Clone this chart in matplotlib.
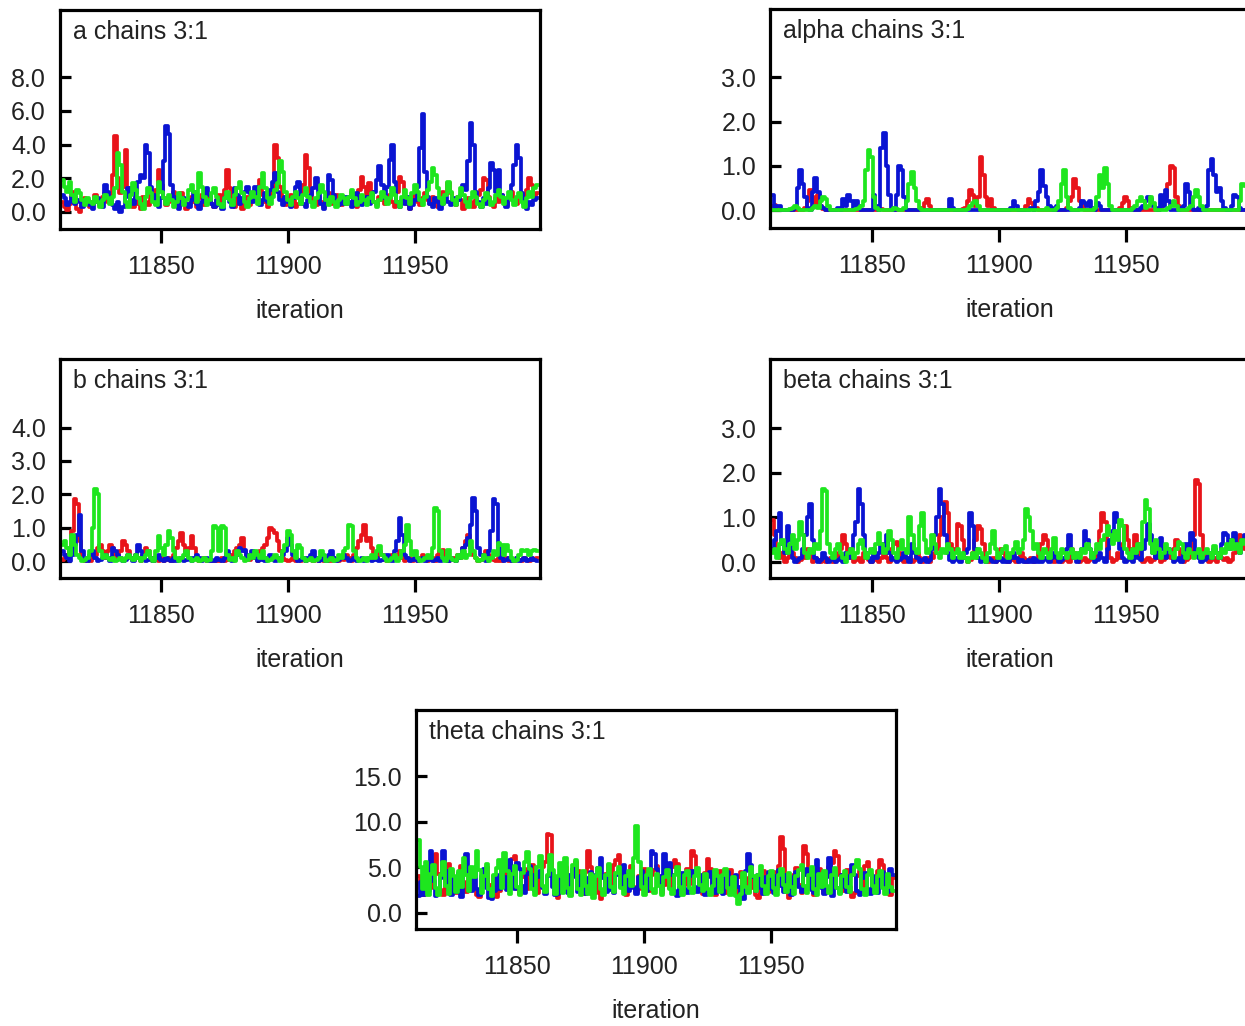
import numpy as np
import matplotlib
matplotlib.use('Agg')
import matplotlib.pyplot as plt

plt.rcParams['font.family'] = ['Liberation Sans', 'DejaVu Sans']

# iterations shown in each trace
iterations = np.arange(11811, 11999)

# ---- a ----
a_red = [0.6, 0.3, 0.1, 0.5, 1.2, 0.9, 0.2, 0.0, 0.4, 0.8, 0.5, 0.3, 0.6, 1.0, 0.7, 0.4, 0.9, 1.1, 0.6, 0.8,
         2.2, 4.5, 2.0, 1.1, 1.5, 3.7, 1.4, 0.6, 0.3, 0.8, 0.5, 0.2, 0.9, 0.6, 0.4, 1.0, 0.7, 1.3, 2.5, 1.6,
         0.8, 0.4, 0.6, 0.9, 1.2, 0.5, 0.3, 1.1, 0.7, 0.2, 0.5, 0.9, 0.6, 0.3, 0.8, 1.0, 0.4, 0.6, 0.9, 0.5,
         0.3, 0.7, 1.0, 0.6, 1.3, 2.5, 1.4, 0.6, 0.3, 0.8, 0.5, 0.2, 0.6, 0.9, 0.4, 0.7, 1.1, 1.4, 1.9, 1.0,
         0.6, 0.3, 0.8, 1.2, 4.0, 3.2, 1.5, 0.9, 0.4, 0.6, 1.0, 0.7, 0.3, 0.5, 1.1, 1.6, 3.4, 2.6, 1.2, 0.7,
         0.4, 0.9, 0.6, 0.3, 0.8, 1.1, 0.5, 0.7, 1.0, 0.6, 0.4, 0.8, 0.5, 0.9, 1.2, 0.6, 0.3, 1.3, 2.1, 1.5,
         1.0, 1.7, 1.2, 0.6, 0.4, 0.9, 0.7, 0.5, 0.8, 1.0, 0.6, 0.3, 1.2, 2.1, 1.8, 0.9, 0.5, 0.2, 0.7, 1.0,
         0.6, 0.4, 0.8, 1.1, 0.7, 0.5, 0.9, 0.6, 0.3, 0.8, 1.2, 1.0, 1.7, 1.1, 0.6, 0.4, 0.9, 0.7, 0.2, 0.5,
         0.8, 0.6, 0.3, 0.7, 1.0, 1.3, 2.0, 1.9, 0.9, 0.5, 0.3, 0.8, 0.6, 1.0, 0.7, 0.4, 0.9, 1.2, 0.8, 0.5,
         0.7, 1.0, 0.6, 1.3, 2.0, 1.6, 0.9, 1.1]
a_blue = [1.0, 0.8, 0.4, 0.6, 0.9, 0.5, 0.7, 0.6, 0.3, 0.5, 0.7, 0.4, 0.2, 0.6, 0.8, 0.5, 0.3, 1.6, 1.2, 0.7,
          0.4, 0.2, 0.6, 0.0, 0.3, 0.9, 1.4, 0.7, 0.5, 1.1, 1.8, 2.2, 2.0, 4.0, 3.5, 1.5, 1.0, 0.5, 0.3, 0.8,
          3.0, 5.1, 4.6, 1.6, 0.9, 0.4, 0.2, 0.6, 0.8, 0.5, 0.3, 0.7, 1.2, 0.5, 0.2, 0.6, 0.9, 1.4, 1.0, 0.5,
          0.3, 0.7, 0.4, 0.2, 0.8, 1.1, 0.6, 0.3, 1.4, 1.0, 0.5, 0.8, 1.2, 1.5, 1.1, 0.6, 1.5, 0.9, 0.4, 0.7,
          1.1, 0.6, 1.3, 1.8, 2.3, 1.2, 0.7, 0.4, 0.9, 0.6, 0.3, 0.8, 1.5, 1.8, 0.9, 0.5, 0.3, 0.7, 1.0, 1.4,
          2.0, 1.1, 0.5, 0.2, 0.8, 2.2, 1.9, 1.0, 0.6, 0.4, 0.7, 0.5, 0.9, 0.6, 0.3, 0.8, 1.1, 0.7, 0.4, 0.6,
          0.9, 0.5, 0.8, 1.2, 1.9, 2.7, 1.6, 0.8, 1.5, 3.1, 4.0, 1.8, 0.6, 0.3, 0.7, 0.5, 0.9, 0.2, 0.4, 0.7,
          1.5, 3.8, 5.8, 2.4, 0.9, 0.5, 0.3, 0.8, 0.6, 0.2, 0.5, 0.9, 0.6, 0.4, 0.8, 0.5, 0.7, 1.0, 1.6, 1.3,
          3.0, 5.3, 4.0, 1.2, 0.6, 0.3, 0.8, 0.5, 1.4, 2.9, 2.5, 1.2, 2.5, 1.0, 0.6, 0.3, 0.9, 1.6, 2.8, 4.0,
          3.2, 1.1, 0.5, 0.2, 0.6, 0.4, 0.7, 0.8]
a_green = [1.9, 1.5, 1.2, 1.8, 1.0, 0.6, 1.3, 1.1, 0.7, 0.4, 0.8, 0.6, 0.5, 0.9, 0.6, 0.3, 0.7, 1.0, 0.8, 0.5,
           0.9, 1.4, 3.5, 2.8, 1.2, 0.6, 0.3, 1.0, 1.7, 1.3, 0.8, 0.5, 0.2, 0.9, 1.4, 1.1, 0.6, 0.4, 1.8, 1.2,
           0.8, 0.5, 1.0, 0.7, 0.3, 0.6, 1.1, 0.8, 0.4, 0.7, 1.3, 1.6, 1.2, 0.6, 2.3, 1.5, 0.9, 0.4, 0.7, 1.1,
           1.4, 0.9, 0.5, 0.3, 0.8, 1.2, 0.7, 0.4, 1.0, 1.4, 1.8, 1.1, 0.6, 0.3, 0.8, 1.2, 0.9, 0.5, 1.5, 2.3,
           1.4, 0.8, 0.5, 0.9, 1.3, 1.7, 3.0, 2.4, 1.2, 0.7, 0.4, 0.9, 1.2, 0.8, 0.5, 1.0, 1.4, 0.9, 0.6, 0.3,
           0.8, 1.1, 1.6, 1.2, 0.7, 0.4, 0.9, 0.6, 0.3, 0.7, 1.0, 0.8, 0.5, 0.9, 1.3, 0.8, 0.4, 0.6, 1.0, 0.7,
           0.4, 0.8, 1.1, 0.6, 0.3, 0.7, 1.2, 0.9, 0.5, 0.8, 1.4, 1.0, 0.6, 0.3, 0.9, 1.3, 0.8, 0.5, 1.1, 1.6,
           1.2, 0.7, 0.4, 0.9, 1.3, 1.8, 2.6, 2.2, 1.4, 0.8, 0.5, 1.0, 1.8, 1.2, 0.7, 0.4, 0.9, 1.4, 1.0, 0.6,
           0.3, 0.8, 1.2, 0.9, 0.5, 0.3, 0.7, 1.1, 0.8, 0.4, 0.6, 1.0, 1.3, 0.9, 0.5, 0.8, 1.2, 0.7, 0.4, 0.9,
           1.1, 0.6, 0.3, 0.8, 1.2, 0.9, 1.4, 1.6]

# ---- alpha ----
alpha_red = [0.1, 0.12, 0.08, 0.02, 0.0, 0.0, 0.01, 0.0, 0.0, 0.0, 0.02, 0.0, 0.0, 0.05, 0.2, 0.45, 0.3, 0.1, 0.35, 0.1,
             0.02, 0.0, 0.0, 0.0, 0.0, 0.01, 0.0, 0.0, 0.0, 0.0, 0.0, 0.0, 0.02, 0.0, 0.0, 0.0, 0.0, 0.0, 0.0, 0.0,
             0.0, 0.0, 0.0, 0.02, 0.0, 0.0, 0.0, 0.0, 0.0, 0.0, 0.0, 0.0, 0.0, 0.0, 0.0, 0.0, 0.0, 0.0, 0.0, 0.05,
             0.15, 0.25, 0.1, 0.0, 0.0, 0.0, 0.0, 0.0, 0.0, 0.0, 0.0, 0.0, 0.0, 0.0, 0.0, 0.02, 0.05, 0.2, 0.45, 0.35,
             0.1, 0.3, 1.2, 0.8, 0.3, 0.1, 0.25, 0.05, 0.0, 0.0, 0.0, 0.0, 0.0, 0.0, 0.0, 0.0, 0.0, 0.0, 0.0, 0.0,
             0.1, 0.25, 0.15, 0.0, 0.05, 0.0, 0.0, 0.0, 0.0, 0.0, 0.0, 0.0, 0.0, 0.0, 0.0, 0.0, 0.05, 0.2, 0.3, 0.7,
             0.5, 0.2, 0.1, 0.0, 0.0, 0.0, 0.0, 0.0, 0.0, 0.0, 0.0, 0.0, 0.0, 0.0, 0.0, 0.0, 0.0, 0.05, 0.15, 0.3,
             0.2, 0.05, 0.0, 0.0, 0.0, 0.0, 0.0, 0.0, 0.0, 0.0, 0.0, 0.0, 0.0, 0.05, 0.2, 0.3, 0.6, 1.0, 0.95, 0.3,
             0.1, 0.0, 0.0, 0.0, 0.0, 0.0, 0.0, 0.0, 0.0, 0.0, 0.0, 0.0, 0.0, 0.0, 0.0, 0.0, 0.0, 0.0, 0.0, 0.0,
             0.0, 0.0, 0.0, 0.0, 0.0, 0.0, 0.0, 0.0]
alpha_blue = [0.35, 0.05, 0.1, 0.1, 0.0, 0.0, 0.0, 0.0, 0.0, 0.05, 0.5, 0.9, 0.6, 0.3, 0.05, 0.0, 0.4, 0.72, 0.4, 0.1,
              0.05, 0.0, 0.0, 0.0, 0.0, 0.0, 0.05, 0.0, 0.25, 0.1, 0.35, 0.2, 0.05, 0.2, 0.1, 0.0, 0.0, 0.0, 0.0, 0.0,
              0.35, 0.1, 0.0, 1.4, 1.75, 1.0, 0.35, 0.05, 0.0, 0.35, 1.0, 0.9, 0.3, 0.0, 0.0, 0.0, 0.0, 0.0, 0.0, 0.0,
              0.0, 0.0, 0.0, 0.0, 0.0, 0.0, 0.0, 0.0, 0.0, 0.0, 0.25, 0.05, 0.0, 0.0, 0.0, 0.0, 0.0, 0.0, 0.0, 0.0,
              0.0, 0.0, 0.0, 0.0, 0.0, 0.0, 0.0, 0.0, 0.0, 0.0, 0.0, 0.0, 0.0, 0.0, 0.05, 0.2, 0.1, 0.0, 0.0, 0.0,
              0.0, 0.0, 0.05, 0.0, 0.2, 0.4, 0.9, 0.55, 0.3, 0.1, 0.05, 0.0, 0.1, 0.0, 0.0, 0.0, 0.0, 0.0, 0.0, 0.0,
              0.0, 0.05, 0.2, 0.15, 0.1, 0.2, 0.05, 0.0, 0.15, 0.1, 0.0, 0.0, 0.0, 0.0, 0.0, 0.0, 0.0, 0.0, 0.0, 0.0,
              0.0, 0.0, 0.0, 0.0, 0.0, 0.05, 0.1, 0.2, 0.3, 0.25, 0.1, 0.05, 0.0, 0.35, 0.1, 0.45, 0.2, 0.0, 0.0, 0.0,
              0.0, 0.05, 0.1, 0.6, 0.4, 0.1, 0.0, 0.0, 0.05, 0.0, 0.0, 0.1, 0.9, 1.15, 0.8, 0.4, 0.5, 0.2, 0.05, 0.0,
              0.0, 0.1, 0.35, 0.3, 0.05, 0.0, 0.0, 0.0]
alpha_green = [0.0, 0.0, 0.0, 0.0, 0.0, 0.0, 0.0, 0.02, 0.05, 0.1, 0.05, 0.0, 0.0, 0.0, 0.0, 0.0, 0.05, 0.1, 0.05, 0.2,
               0.3, 0.25, 0.1, 0.0, 0.0, 0.0, 0.0, 0.0, 0.0, 0.0, 0.0, 0.0, 0.0, 0.02, 0.05, 0.1, 0.2, 0.9, 1.35, 1.2,
               0.3, 0.05, 0.0, 0.0, 0.0, 0.0, 0.0, 0.0, 0.05, 0.02, 0.0, 0.0, 0.05, 0.2, 0.6, 0.85, 0.5, 0.2, 0.05, 0.0,
               0.0, 0.0, 0.0, 0.0, 0.0, 0.0, 0.0, 0.0, 0.0, 0.0, 0.0, 0.0, 0.0, 0.0, 0.0, 0.0, 0.0, 0.02, 0.1, 0.15,
               0.2, 0.1, 0.0, 0.0, 0.0, 0.0, 0.0, 0.0, 0.0, 0.0, 0.0, 0.0, 0.0, 0.0, 0.0, 0.0, 0.0, 0.0, 0.0, 0.0,
               0.0, 0.0, 0.0, 0.0, 0.0, 0.0, 0.0, 0.0, 0.05, 0.0, 0.0, 0.0, 0.05, 0.2, 0.6, 0.9, 0.3, 0.05, 0.0, 0.0,
               0.0, 0.0, 0.0, 0.0, 0.0, 0.0, 0.0, 0.05, 0.3, 0.8, 0.5, 0.95, 0.6, 0.1, 0.0, 0.0, 0.0, 0.0, 0.0, 0.0,
               0.0, 0.0, 0.05, 0.1, 0.2, 0.3, 0.2, 0.05, 0.1, 0.3, 0.15, 0.0, 0.0, 0.0, 0.0, 0.0, 0.05, 0.1, 0.2, 0.1,
               0.0, 0.0, 0.0, 0.0, 0.05, 0.1, 0.3, 0.45, 0.3, 0.1, 0.0, 0.0, 0.0, 0.0, 0.0, 0.0, 0.0, 0.0, 0.0, 0.0,
               0.0, 0.0, 0.0, 0.0, 0.2, 0.6, 0.55, 0.4]

# ---- b ----
b_red = [0.05, 0.1, 0.2, 0.4, 0.9, 1.85, 1.7, 0.6, 0.1, 0.0, 0.05, 0.0, 0.1, 0.2, 0.4, 0.5, 0.3, 0.1, 0.3, 0.5,
         0.4, 0.2, 0.1, 0.3, 0.6, 0.5, 0.3, 0.1, 0.05, 0.2, 0.1, 0.0, 0.2, 0.4, 0.3, 0.1, 0.0, 0.05, 0.0, 0.1,
         0.0, 0.05, 0.1, 0.0, 0.2, 0.4, 0.6, 0.85, 0.5, 0.2, 0.4, 0.75, 0.4, 0.1, 0.0, 0.05, 0.1, 0.0, 0.05, 0.0,
         0.0, 0.05, 0.0, 0.1, 0.0, 0.05, 0.1, 0.2, 0.3, 0.4, 0.5, 0.7, 0.3, 0.1, 0.05, 0.2, 0.1, 0.0, 0.3, 0.4,
         0.5, 0.7, 1.0, 0.95, 0.85, 0.6, 0.3, 0.1, 0.05, 0.0, 0.05, 0.1, 0.0, 0.05, 0.0, 0.1, 0.0, 0.05, 0.1, 0.0,
         0.05, 0.0, 0.1, 0.0, 0.05, 0.0, 0.0, 0.1, 0.05, 0.0, 0.1, 0.05, 0.2, 0.1, 0.0, 0.2, 0.4, 0.6, 0.8, 1.1,
         0.6, 0.7, 0.4, 0.2, 0.1, 0.3, 0.2, 0.05, 0.0, 0.1, 0.2, 0.1, 0.2, 0.3, 0.1, 0.0, 0.05, 0.1, 0.0, 0.05,
         0.0, 0.1, 0.2, 0.1, 0.0, 0.05, 0.1, 0.0, 0.2, 0.3, 0.35, 0.1, 0.0, 0.05, 0.1, 0.0, 0.2, 0.1, 0.4, 0.6,
         0.8, 0.4, 0.2, 0.1, 0.0, 0.05, 0.1, 0.3, 0.2, 0.1, 0.05, 0.0, 0.1, 0.0, 0.05, 0.1, 0.0, 0.05, 0.0, 0.1,
         0.05, 0.0, 0.1, 0.05, 0.0, 0.1, 0.05, 0.1]
b_blue = [0.3, 0.2, 0.1, 0.0, 0.2, 0.5, 0.8, 1.4, 0.3, 0.1, 0.0, 0.2, 0.3, 0.1, 0.0, 0.05, 0.1, 0.2, 0.1, 0.0,
          0.4, 0.3, 0.2, 0.1, 0.0, 0.05, 0.2, 0.1, 0.0, 0.2, 0.5, 0.3, 0.1, 0.0, 0.05, 0.1, 0.0, 0.1, 0.2, 0.05,
          0.0, 0.1, 0.05, 0.0, 0.1, 0.0, 0.05, 0.1, 0.0, 0.05, 0.1, 0.0, 0.1, 0.2, 0.1, 0.0, 0.05, 0.1, 0.0, 0.05,
          0.0, 0.1, 0.05, 0.0, 0.1, 0.3, 0.1, 0.0, 0.05, 0.2, 0.4, 0.3, 0.35, 0.1, 0.2, 0.3, 0.1, 0.0, 0.05, 0.1,
          0.0, 0.1, 0.2, 0.1, 0.0, 0.05, 0.1, 0.2, 0.3, 0.7, 0.5, 0.2, 0.1, 0.0, 0.05, 0.1, 0.0, 0.1, 0.2, 0.3,
          0.1, 0.0, 0.05, 0.1, 0.0, 0.2, 0.3, 0.1, 0.0, 0.05, 0.1, 0.2, 0.1, 0.0, 0.05, 0.1, 0.0, 0.05, 0.1, 0.0,
          0.05, 0.1, 0.0, 0.05, 0.1, 0.0, 0.05, 0.1, 0.2, 0.1, 0.0, 0.3, 0.6, 1.3, 0.8, 0.2, 0.1, 0.0, 0.05, 0.1,
          0.0, 0.05, 0.1, 0.0, 0.05, 0.1, 0.0, 0.05, 0.1, 0.0, 0.1, 0.05, 0.0, 0.1, 0.05, 0.0, 0.1, 0.2, 0.4, 0.5,
          0.7, 1.1, 1.9, 1.5, 0.4, 0.2, 0.1, 0.0, 0.3, 0.9, 1.85, 1.7, 0.4, 0.1, 0.0, 0.05, 0.1, 0.0, 0.05, 0.1,
          0.0, 0.05, 0.1, 0.0, 0.05, 0.1, 0.05, 0.0]
b_green = [0.5, 0.6, 0.4, 0.2, 0.8, 0.5, 0.2, 0.1, 0.0, 0.05, 0.1, 0.3, 1.0, 2.15, 2.0, 0.3, 0.1, 0.2, 0.1, 0.05,
           0.1, 0.0, 0.05, 0.1, 0.0, 0.1, 0.2, 0.1, 0.05, 0.2, 0.1, 0.0, 0.1, 0.2, 0.3, 0.1, 0.0, 0.3, 0.75, 0.4,
           0.2, 0.5, 0.9, 0.7, 0.3, 0.1, 0.0, 0.1, 0.2, 0.3, 0.1, 0.0, 0.05, 0.1, 0.0, 0.05, 0.1, 0.0, 0.05, 0.3,
           1.05, 1.0, 0.3, 1.05, 1.0, 0.2, 0.05, 0.1, 0.0, 0.3, 0.2, 0.1, 0.0, 0.05, 0.2, 0.1, 0.3, 0.2, 0.1, 0.3,
           0.1, 0.0, 0.05, 0.1, 0.2, 0.1, 0.0, 0.3, 0.5, 0.9, 0.8, 0.3, 0.1, 0.5, 0.4, 0.1, 0.0, 0.05, 0.1, 0.0,
           0.05, 0.1, 0.3, 0.2, 0.0, 0.05, 0.1, 0.0, 0.05, 0.2, 0.1, 0.3, 0.4, 1.1, 1.05, 0.3, 0.1, 0.0, 0.05, 0.1,
           0.0, 0.1, 0.2, 0.1, 0.3, 0.45, 0.2, 0.1, 0.0, 0.05, 0.1, 0.2, 0.0, 0.1, 0.3, 0.5, 1.1, 0.6, 0.2, 0.3,
           0.1, 0.0, 0.05, 0.1, 0.2, 0.1, 0.4, 1.6, 1.5, 0.3, 0.1, 0.0, 0.35, 0.1, 0.05, 0.0, 0.2, 0.1, 0.3, 0.1,
           0.2, 0.6, 0.3, 0.1, 0.0, 0.05, 0.2, 0.1, 0.0, 0.1, 0.3, 0.2, 0.55, 0.5, 0.2, 0.5, 0.3, 0.1, 0.0, 0.05,
           0.2, 0.35, 0.3, 0.35, 0.2, 0.3, 0.35, 0.3]

# ---- beta ----
beta_red = [0.95, 0.6, 0.3, 0.1, 0.2, 0.0, 0.1, 0.3, 0.2, 0.1, 0.0, 0.05, 0.2, 0.1, 0.3, 0.2, 0.0, 0.1, 0.05, 0.0,
            0.1, 0.0, 0.05, 0.1, 0.0, 0.2, 0.1, 0.3, 0.6, 0.4, 0.2, 0.1, 0.0, 0.05, 0.1, 0.0, 0.2, 0.1, 0.05, 0.0,
            0.1, 0.05, 0.0, 0.1, 0.2, 0.1, 0.0, 0.3, 0.4, 0.45, 0.2, 0.1, 0.0, 0.05, 0.1, 0.0, 0.05, 0.2, 0.1, 0.0,
            0.05, 0.1, 0.0, 0.1, 0.2, 0.3, 0.6, 1.0, 1.35, 1.1, 0.4, 0.2, 0.3, 0.85, 0.8, 0.5, 0.1, 0.0, 0.05, 0.2,
            0.5, 0.8, 0.75, 0.4, 0.1, 0.0, 0.05, 0.1, 0.0, 0.05, 0.3, 0.2, 0.1, 0.0, 0.05, 0.1, 0.0, 0.05, 0.2, 0.1,
            0.0, 0.05, 0.1, 0.0, 0.05, 0.2, 0.4, 0.6, 0.5, 0.2, 0.1, 0.0, 0.05, 0.1, 0.0, 0.05, 0.1, 0.0, 0.3, 0.2,
            0.1, 0.0, 0.05, 0.1, 0.0, 0.05, 0.2, 0.1, 0.3, 0.7, 1.1, 0.9, 0.3, 0.1, 0.0, 0.05, 0.2, 0.1, 0.4, 0.8,
            0.5, 0.2, 0.3, 0.6, 0.4, 0.1, 0.0, 0.05, 0.1, 0.0, 0.05, 0.2, 0.1, 0.0, 0.05, 0.1, 0.2, 0.1, 0.3, 0.5,
            0.3, 0.1, 0.0, 0.05, 0.1, 0.2, 0.6, 1.85, 1.75, 0.6, 0.2, 0.1, 0.0, 0.05, 0.1, 0.0, 0.2, 0.1, 0.05, 0.1,
            0.0, 0.05, 0.2, 0.4, 0.6, 0.55, 0.3, 0.4]
beta_blue = [0.3, 0.5, 0.7, 1.1, 0.4, 0.2, 0.8, 0.5, 0.1, 0.0, 0.05, 0.1, 0.3, 0.6, 1.0, 1.3, 0.5, 0.1, 0.0, 0.05,
             0.2, 0.1, 0.0, 0.05, 0.1, 0.0, 0.05, 0.1, 0.0, 0.2, 0.1, 0.3, 0.6, 0.9, 1.65, 1.3, 0.6, 0.2, 0.1, 0.0,
             0.3, 0.1, 0.2, 0.4, 0.3, 0.6, 0.2, 0.05, 0.1, 0.0, 0.05, 0.1, 0.2, 0.1, 0.0, 0.4, 0.2, 0.1, 0.0, 0.05,
             0.1, 0.0, 0.05, 0.3, 0.6, 1.0, 1.65, 1.3, 0.6, 0.2, 0.05, 0.0, 0.1, 0.05, 0.0, 0.1, 0.2, 0.3, 1.1, 0.8,
             0.3, 0.1, 0.0, 0.05, 0.0, 0.1, 0.05, 0.0, 0.0, 0.05, 0.1, 0.0, 0.05, 0.0, 0.1, 0.2, 0.1, 0.0, 0.05, 0.0,
             0.0, 0.05, 0.0, 0.1, 0.0, 0.05, 0.0, 0.1, 0.05, 0.0, 0.1, 0.2, 0.1, 0.0, 0.05, 0.1, 0.3, 0.6, 0.2, 0.1,
             0.0, 0.2, 0.3, 0.7, 0.5, 0.3, 0.1, 0.0, 0.05, 0.2, 0.1, 0.0, 0.3, 0.5, 0.7, 1.1, 0.9, 0.3, 0.1, 0.0,
             0.05, 0.1, 0.0, 0.2, 0.1, 0.05, 0.3, 0.5, 0.85, 0.6, 0.2, 0.1, 0.3, 0.55, 0.3, 0.1, 0.3, 0.2, 0.0, 0.05,
             0.1, 0.0, 0.2, 0.4, 0.3, 0.65, 0.5, 0.2, 0.1, 0.0, 0.05, 0.1, 0.2, 0.1, 0.3, 0.2, 0.1, 0.4, 0.65, 0.6,
             0.3, 0.5, 0.65, 0.4, 0.2, 0.5, 0.6, 0.5]
beta_green = [0.2, 0.3, 0.1, 0.4, 0.5, 0.3, 0.2, 0.4, 0.6, 0.3, 0.5, 0.9, 0.6, 0.2, 0.1, 0.3, 0.2, 0.4, 0.3, 0.7,
              1.65, 1.6, 0.4, 0.2, 0.1, 0.3, 0.4, 0.2, 0.1, 0.0, 0.2, 0.3, 0.1, 0.2, 0.4, 0.5, 0.3, 0.1, 0.2, 0.3,
              0.2, 0.4, 0.65, 0.4, 0.2, 0.3, 0.7, 0.5, 0.2, 0.1, 0.3, 0.5, 0.3, 0.2, 1.0, 0.6, 0.3, 0.2, 0.8, 1.1,
              0.5, 0.2, 0.3, 0.6, 0.4, 0.2, 0.1, 0.3, 0.2, 0.4, 0.3, 0.1, 0.2, 0.3, 0.1, 0.2, 0.1, 0.0, 0.1, 0.2,
              0.1, 0.3, 0.2, 0.1, 0.0, 0.2, 0.4, 0.7, 0.3, 0.1, 0.2, 0.3, 0.35, 0.1, 0.2, 0.3, 0.45, 0.2, 0.3, 0.5,
              1.2, 1.0, 0.7, 0.3, 0.4, 0.2, 0.1, 0.3, 0.2, 0.1, 0.3, 0.55, 0.2, 0.1, 0.3, 0.2, 0.1, 0.2, 0.3, 0.1,
              0.2, 0.1, 0.3, 0.2, 0.4, 0.3, 0.1, 0.2, 0.4, 0.3, 0.5, 0.6, 0.8, 0.6, 0.4, 0.7, 0.5, 0.95, 0.8, 0.3,
              0.2, 0.1, 0.3, 0.2, 0.4, 0.3, 0.9, 1.4, 1.2, 0.4, 0.2, 0.5, 0.3, 0.1, 0.2, 0.4, 0.3, 0.2, 0.1, 0.3,
              0.45, 0.4, 0.2, 0.1, 0.3, 0.2, 0.1, 0.2, 0.3, 0.1, 0.2, 0.3, 0.2, 0.1, 0.35, 0.2, 0.1, 0.3, 0.2, 0.4,
              0.3, 0.5, 0.3, 0.4, 0.2, 0.5, 0.4, 0.3]

# ---- theta ----
theta_red = [4.0, 2.6, 1.9, 4.2, 5.0, 2.7, 5.6, 6.5, 4.3, 2.5, 2.0, 3.8, 5.4, 4.6, 2.9, 2.2, 4.3, 5.1, 3.4, 2.3,
             3.8, 4.9, 2.6, 2.0, 1.7, 2.9, 4.4, 5.0, 3.0, 2.0, 4.0, 1.7, 2.4, 4.1, 4.8, 3.0, 5.2, 5.9, 6.2, 2.6,
             2.1, 3.9, 4.8, 2.6, 4.3, 5.2, 3.1, 2.2, 4.4, 5.0, 5.6, 8.7, 8.5, 4.2, 2.8, 1.6, 2.4, 4.0, 5.0, 2.8,
             2.0, 4.1, 5.6, 4.6, 2.9, 2.1, 4.5, 6.8, 5.0, 2.8, 2.2, 4.0, 1.5, 2.4, 4.3, 5.2, 3.2, 5.3, 5.8, 6.3,
             4.5, 2.6, 2.0, 4.4, 5.1, 2.8, 2.3, 4.0, 2.6, 4.8, 4.0, 2.4, 4.2, 4.7, 5.1, 3.0, 2.2, 3.0, 4.6, 2.7,
             5.0, 5.8, 5.4, 3.2, 2.3, 3.1, 4.8, 3.2, 6.8, 6.2, 4.3, 2.6, 2.1, 4.4, 5.9, 4.8, 2.7, 2.0, 3.9, 4.6,
             2.9, 2.2, 4.0, 4.7, 2.8, 2.1, 3.9, 4.5, 2.5, 3.8, 2.3, 4.1, 2.7, 2.0, 1.6, 2.8, 4.6, 4.0, 2.3, 3.0,
             4.5, 2.6, 5.1, 8.3, 7.0, 3.2, 1.6, 2.4, 4.2, 4.9, 3.0, 2.2, 7.3, 6.5, 4.4, 2.7, 2.0, 3.9, 4.8, 2.9,
             2.2, 4.1, 5.0, 5.5, 6.8, 6.2, 4.1, 2.4, 3.0, 4.7, 2.8, 1.7, 2.2, 4.0, 4.6, 2.7, 5.1, 5.6, 4.3, 2.4,
             2.9, 4.6, 5.8, 5.2, 4.0, 2.6, 2.0, 3.8]
theta_blue = [1.8, 3.4, 2.0, 4.2, 2.4, 6.8, 3.5, 1.8, 2.2, 3.8, 6.8, 4.6, 2.5, 2.0, 3.9, 2.3, 4.4, 1.7, 5.0, 6.5,
              4.1, 2.4, 4.5, 2.6, 1.9, 4.0, 4.8, 2.7, 1.6, 1.5, 2.4, 4.1, 2.6, 4.7, 3.9, 2.5, 5.8, 4.1, 2.6, 5.5,
              4.8, 2.9, 2.2, 4.3, 5.1, 4.1, 2.4, 3.9, 4.6, 2.7, 2.1, 4.0, 4.7, 2.8, 2.0, 2.1, 3.8, 4.5, 2.6, 2.2,
              4.1, 4.8, 3.9, 2.3, 4.0, 2.7, 2.1, 3.8, 4.5, 2.6, 4.2, 4.9, 6.0, 3.8, 2.3, 4.0, 2.5, 2.2, 4.1, 4.6,
              2.8, 5.2, 4.2, 2.4, 4.0, 2.7, 2.1, 3.9, 4.6, 2.9, 2.4, 4.1, 6.8, 6.5, 4.8, 4.0, 2.5, 6.5, 4.7, 5.5,
              4.1, 2.4, 1.8, 2.8, 4.4, 2.6, 2.2, 4.0, 4.6, 2.8, 2.3, 4.1, 2.7, 2.0, 3.9, 4.5, 2.8, 2.2, 4.0, 2.5,
              2.1, 3.8, 4.5, 2.7, 2.3, 4.1, 2.8, 2.2, 1.5, 4.6, 6.5, 5.2, 3.9, 2.4, 4.1, 2.7, 2.1, 3.9, 4.5, 2.6,
              2.2, 4.0, 4.7, 2.9, 2.3, 4.1, 2.7, 2.0, 3.9, 4.5, 2.8, 2.3, 4.1, 4.8, 4.0, 2.5, 2.2, 5.8, 4.1, 2.7,
              2.1, 3.9, 6.0, 1.8, 4.0, 2.7, 2.2, 4.1, 2.8, 2.3, 4.0, 5.2, 4.1, 2.4, 1.9, 3.8, 4.4, 2.6, 2.1, 4.0,
              2.7, 2.2, 3.9, 4.5, 2.8, 2.3, 4.8, 4.1]
theta_green = [8.0, 5.0, 2.6, 5.6, 2.0, 4.3, 5.2, 2.7, 1.9, 4.2, 5.6, 2.9, 2.1, 4.8, 4.0, 2.3, 4.6, 2.8, 6.0, 4.1,
               2.4, 5.0, 3.9, 6.8, 4.7, 2.2, 4.0, 5.4, 2.6, 1.8, 4.1, 4.9, 5.8, 2.7, 6.6, 4.6, 2.1, 4.3, 5.1, 2.8,
               1.9, 4.4, 5.6, 6.7, 4.8, 2.6, 2.0, 5.0, 6.2, 2.9, 2.3, 4.1, 6.3, 4.7, 2.1, 4.0, 5.5, 2.2, 6.0, 2.7,
               1.8, 5.2, 5.8, 2.6, 1.9, 4.6, 2.9, 2.1, 4.3, 1.6, 4.0, 4.9, 2.6, 2.0, 4.2, 5.4, 2.8, 2.3, 4.4, 5.0,
               2.7, 2.1, 4.0, 4.6, 2.9, 6.0, 9.5, 5.6, 2.8, 1.9, 4.1, 4.8, 2.6, 2.2, 4.3, 2.9, 2.0, 3.9, 4.7, 2.6,
               2.1, 4.2, 5.0, 2.8, 2.0, 4.1, 4.6, 2.7, 2.2, 4.0, 4.9, 3.0, 2.4, 4.3, 2.6, 1.9, 2.9, 4.7, 4.0, 2.3,
               4.1, 4.8, 2.7, 2.0, 3.9, 1.8, 1.0, 2.1, 4.4, 2.8, 2.2, 5.0, 4.0, 2.4, 4.2, 5.1, 2.9, 2.1, 4.0, 4.6,
               2.7, 1.9, 4.1, 4.8, 3.0, 2.3, 4.4, 2.8, 2.1, 4.0, 4.7, 5.2, 2.9, 2.2, 4.1, 5.0, 2.6, 2.0, 4.3, 2.8,
               4.6, 2.9, 2.2, 4.1, 4.9, 2.7, 2.1, 4.0, 4.6, 2.8, 2.3, 4.2, 5.0, 5.8, 4.8, 2.6, 2.0, 4.1, 4.7, 2.9,
               2.2, 4.0, 4.6, 2.7, 2.1, 4.3, 2.8, 2.4]

red = '#e8141a'
blue = '#0a14d2'
green = '#1ee61e'

# name, chains, y ticks, y limits, axes rect [left, bottom, width, height]
panels = [
    ('a', (a_red, a_blue, a_green), [0, 2, 4, 6, 8], (-1.0, 12.0), [0.048, 0.777, 0.3855, 0.2135]),
    ('alpha', (alpha_red, alpha_blue, alpha_green), [0, 1, 2, 3], (-0.4, 4.55), [0.6185, 0.778, 0.3855, 0.2135]),
    ('b', (b_red, b_blue, b_green), [0, 1, 2, 3, 4], (-0.5, 6.05), [0.048, 0.4366, 0.3855, 0.2135]),
    ('beta', (beta_red, beta_blue, beta_green), [0, 1, 2, 3], (-0.36, 4.56), [0.6185, 0.4366, 0.3855, 0.2135]),
    ('theta', (theta_red, theta_blue, theta_green), [0, 5, 10, 15], (-1.8, 22.3), [0.334, 0.0945, 0.3855, 0.2135]),
]

fig = plt.figure(figsize=(12.45, 10.26), dpi=100)

for name, chains, yt, ylim, rect in panels:
    ax = fig.add_axes(rect)
    for vals, col in zip(chains, (red, blue, green)):
        ax.plot(iterations, vals, color=col, lw=2.7, drawstyle='steps-mid')
    ax.set_xlim(11810, 11999)
    ax.set_ylim(*ylim)
    ax.set_xticks([11850, 11900, 11950])
    ax.set_yticks(yt)
    ax.set_yticklabels(['%.1f' % v for v in yt])
    for s in ax.spines.values():
        s.set_linewidth(2.3)
    ax.tick_params(axis='y', direction='in', length=8, width=2.3, pad=10, labelsize=18, labelcolor='#222222')
    ax.tick_params(axis='x', direction='out', length=10, width=2.3, pad=9, labelsize=18, labelcolor='#222222')
    ax.set_xlabel('iteration', fontsize=18, color='#222222', labelpad=14)
    ax.text(0.027, 0.9, name + ' chains 3:1', transform=ax.transAxes,
            fontsize=18, color='#222222', va='center', ha='left')

fig.savefig('out.png', dpi=100)
